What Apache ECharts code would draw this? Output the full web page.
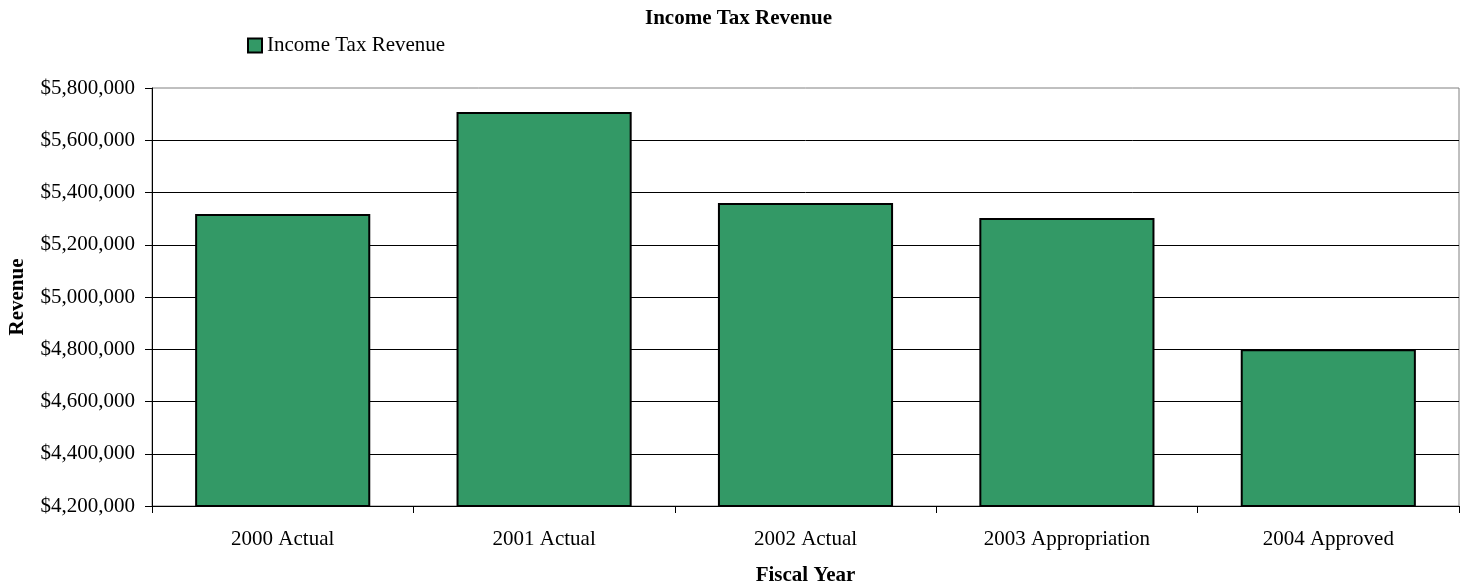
<!DOCTYPE html>
<html>
<head>
<meta charset="utf-8">
<script src="https://cdn.jsdelivr.net/npm/echarts@6/dist/echarts.min.js"></script>
<style>
  html, body { margin: 0; padding: 0; background: #fff; }
  #chart { width: 1465px; height: 588px; }
</style>
</head>
<body>
<div id="chart"></div>
<script>
// Fiscal years and income tax revenue (dollars)
const categories = ['2000 Actual', '2001 Actual', '2002 Actual', '2003 Appropriation', '2004 Approved'];
const revenue = [5318000, 5708000, 5360000, 5302000, 4800000];
const seriesName = 'Income Tax Revenue';

const fontFamily = '"Liberation Serif", "Times New Roman", serif';

function money(v) {
  return '$' + String(v).replace(/\B(?=(\d{3})+(?!\d))/g, ',');
}

const chart = echarts.init(document.getElementById('chart'), null, { renderer: 'canvas' });
chart.setOption({
  animation: false,
  backgroundColor: '#fff',
  textStyle: { fontFamily: fontFamily, color: '#000' },
  title: {
    text: 'Income Tax Revenue',
    left: 640,
    top: 3,
    textStyle: { fontFamily: fontFamily, fontSize: 21, fontWeight: 'bold', color: '#000' }
  },
  legend: {
    left: 242,
    top: 30,
    icon: 'rect',
    itemWidth: 14,
    itemHeight: 14,
    textStyle: { fontFamily: fontFamily, fontSize: 21, color: '#000' },
    data: [seriesName]
  },
  grid: {
    left: 152, top: 88, right: 6, bottom: 82,
    outerBoundsMode: 'none',
    containLabel: false,
    show: true, borderColor: '#808080', borderWidth: 1, backgroundColor: 'transparent'
  },
  xAxis: {
    type: 'category',
    data: categories,
    name: 'Fiscal Year',
    nameLocation: 'middle',
    nameGap: 59,
    nameTextStyle: { fontFamily: fontFamily, fontSize: 21, fontWeight: 'bold', color: '#000' },
    axisLine: { lineStyle: { color: '#000', width: 1 } },
    axisTick: { show: true, alignWithLabel: false, interval: 0, length: 7, lineStyle: { color: '#000', width: 1 } },
    axisLabel: { margin: 23, fontFamily: fontFamily, fontSize: 21, color: '#000' }
  },
  yAxis: {
    type: 'value',
    min: 4200000,
    max: 5800000,
    interval: 200000,
    name: 'Revenue',
    nameLocation: 'middle',
    nameRotate: 90,
    nameGap: 124,
    nameTextStyle: { fontFamily: fontFamily, fontSize: 21, fontWeight: 'bold', color: '#000' },
    axisLine: { show: true, lineStyle: { color: '#000', width: 1 } },
    axisTick: { show: true, length: 7, lineStyle: { color: '#000' } },
    axisLabel: { margin: 17, fontFamily: fontFamily, fontSize: 21, color: '#000', formatter: money },
    splitLine: { show: true, showMaxLine: false, lineStyle: { color: '#000', width: 1 } }
  },
  series: [{
    name: seriesName,
    type: 'bar',
    data: revenue,
    barCategoryGap: '33%',
    itemStyle: { color: '#339966', borderColor: '#000', borderWidth: 2 }
  }]
});
</script>
</body>
</html>
